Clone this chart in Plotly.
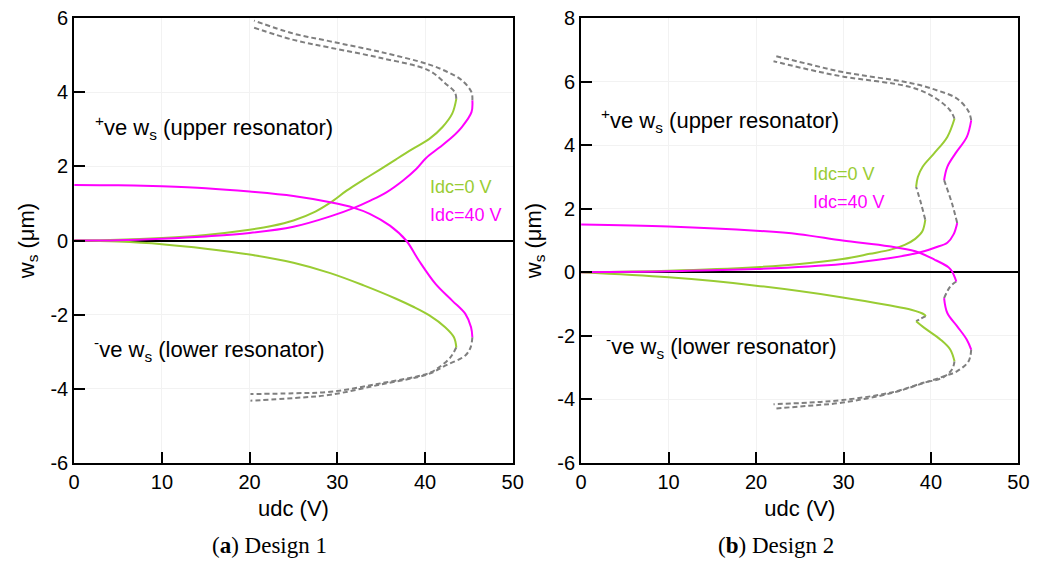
import plotly.graph_objects as go

# ---------------- Design 1 (left) ----------------
d1_g_up_x = [0, 5, 10, 15, 20, 22.5, 25, 27.5, 29.2, 31.1, 33.0, 34.9, 36.7, 38.6, 40.5, 42.0, 43.1, 43.57]
d1_g_up_y = [0, 0.02, 0.07, 0.15, 0.29, 0.39, 0.54, 0.78, 1.02, 1.35, 1.64, 1.92, 2.19, 2.47, 2.74, 3.06, 3.42, 3.82]
d1_m_up_x = [0, 5, 10, 15, 20, 25, 29.2, 31.9, 33.7, 35.6, 37.5, 39.0, 40.1, 41.6, 43.1, 44.2, 45.3, 45.4]
d1_m_up_y = [0, 0.01, 0.05, 0.11, 0.2, 0.37, 0.65, 0.88, 1.07, 1.30, 1.62, 1.93, 2.22, 2.50, 2.79, 3.06, 3.46, 3.78]
d1_m_dn_x = [0, 5, 10, 15, 20, 25, 29.2, 31.9, 33.7, 36.0, 37.85, 39.3, 41.2, 43.1, 44.6, 45.25, 45.4]
d1_m_dn_y = [1.5, 1.49, 1.46, 1.41, 1.32, 1.2, 1.03, 0.88, 0.72, 0.4, 0.0, -0.54, -1.17, -1.62, -1.98, -2.34, -2.61]
d1_g_dn_x = [0, 5, 10, 15, 20, 25, 29.2, 33.0, 36.7, 38.6, 40.5, 42.3, 43.3, 43.57]
d1_g_dn_y = [0, -0.03, -0.1, -0.22, -0.38, -0.6, -0.88, -1.21, -1.57, -1.78, -2.02, -2.34, -2.61, -2.88]
# unstable (dashed) branches
d1_g_uds_x = [43.57, 43.4, 42.35, 40.4, 35, 29.2, 25, 20.5]
d1_g_uds_y = [3.82, 4.0, 4.23, 4.59, 4.92, 5.20, 5.41, 5.74]
d1_m_uds_x = [45.4, 45.3, 44.2, 42.5, 40.4, 35, 29.2, 25, 20.5]
d1_m_uds_y = [3.78, 4.0, 4.32, 4.55, 4.75, 5.08, 5.37, 5.58, 5.93]
d1_g_lds_x = [43.57, 42.9, 41.6, 40.4, 35, 29.2, 25, 20.1]
d1_g_lds_y = [-2.88, -3.15, -3.42, -3.58, -3.85, -4.08, -4.12, -4.14]
d1_m_lds_x = [45.4, 45.2, 44.6, 42.35, 40.4, 35, 29.2, 25, 20.1]
d1_m_lds_y = [-2.61, -2.88, -3.1, -3.37, -3.6, -3.88, -4.16, -4.25, -4.32]

# ---------------- Design 2 (right) ----------------
d2_g_up1_x = [0, 10, 20, 25, 29.9, 33, 35.5, 37.0, 38.2, 39.0, 39.35]
d2_g_up1_y = [0, 0.05, 0.16, 0.26, 0.42, 0.58, 0.72, 0.86, 1.05, 1.28, 1.65]
d2_g_gapu_x = [39.35, 38.86, 38.3]
d2_g_gapu_y = [1.65, 2.17, 2.69]
d2_g_up2_x = [38.3, 38.5, 39.05, 40.36, 41.87, 42.69]
d2_g_up2_y = [2.69, 3.0, 3.32, 3.74, 4.26, 4.83]
d2_g_uds_x = [42.69, 42.2, 40.36, 37.74, 29.9, 26, 22]
d2_g_uds_y = [4.83, 5.09, 5.51, 5.82, 6.16, 6.38, 6.64]

d2_m_up1_x = [0, 10, 20, 29.9, 35.2, 37.5, 39.2, 40.5, 41.87, 42.6, 43.0]
d2_m_up1_y = [0, 0.03, 0.1, 0.26, 0.44, 0.55, 0.66, 0.78, 0.93, 1.2, 1.55]
d2_m_gapu_x = [43.0, 42.4, 41.5]
d2_m_gapu_y = [1.55, 2.17, 2.9]
d2_m_up2_x = [41.5, 41.87, 42.8, 44.1, 44.6]
d2_m_up2_y = [2.9, 3.32, 3.74, 4.26, 4.78]
d2_m_uds_x = [44.6, 44.3, 43.0, 40.74, 37.74, 29.9, 26, 22]
d2_m_uds_y = [4.78, 5.06, 5.46, 5.72, 5.95, 6.3, 6.55, 6.82]

d2_m_dn1_x = [0, 10, 20, 24.9, 29.9, 35.2, 38.2, 40.4, 42.0, 42.4, 42.9]
d2_m_dn1_y = [1.5, 1.44, 1.31, 1.2, 1.0, 0.82, 0.66, 0.4, 0.16, 0.03, -0.29]
d2_m_gapd_x = [42.9, 42.2, 41.5]
d2_m_gapd_y = [-0.29, -0.45, -0.81]
d2_m_dn2_x = [41.5, 41.87, 43.0, 44.1, 44.6]
d2_m_dn2_y = [-0.81, -1.28, -1.7, -2.12, -2.43]
d2_m_lds_x = [44.6, 44.3, 43.0, 41.5, 39.2, 35.5, 29.9, 26, 22]
d2_m_lds_y = [-2.43, -2.8, -3.11, -3.27, -3.48, -3.8, -4.1, -4.2, -4.29]

d2_g_dn1_x = [0, 10, 20, 29.9, 35.2, 37.74, 39.24, 39.4]
d2_g_dn1_y = [0, -0.16, -0.42, -0.79, -1.04, -1.18, -1.33, -1.38]
d2_g_gapd_x = [39.4, 38.9, 38.3]
d2_g_gapd_y = [-1.38, -1.45, -1.54]
d2_g_dn2_x = [38.3, 39.24, 41.1, 42.2, 42.69]
d2_g_dn2_y = [-1.54, -1.75, -2.12, -2.43, -2.8]
d2_g_lds_x = [42.69, 42.4, 41.3, 39.24, 35.5, 29.9, 26, 22]
d2_g_lds_y = [-2.8, -3.06, -3.32, -3.47, -3.78, -4.02, -4.1, -4.15]

# tick labels (hyphen minus as in the original)
x_ticks = [0, 10, 20, 30, 40, 50]
y1_ticks = [-6, -4, -2, 0, 2, 4, 6]
y2_ticks = [-6, -4, -2, 0, 2, 4, 6, 8]

GREEN = "#99cc33"
MAG = "#ff00ff"
GRAY = "#7f7f7f"

fig = go.Figure()

def add(x, y, color, dashed, ax):
    xa, ya = ("x", "y") if ax == 1 else ("x2", "y2")
    fig.add_trace(go.Scatter(
        x=x, y=y, mode="lines", xaxis=xa, yaxis=ya, showlegend=False, hoverinfo="skip",
        line=dict(color=color, width=2, dash="5px,3px" if dashed else "solid",
                  shape="spline", smoothing=1.0)))

# left dashed
for x, y in [(d1_g_uds_x, d1_g_uds_y), (d1_m_uds_x, d1_m_uds_y),
             (d1_g_lds_x, d1_g_lds_y), (d1_m_lds_x, d1_m_lds_y)]:
    add(x, y, GRAY, True, 1)
add(d1_g_up_x, d1_g_up_y, GREEN, False, 1)
add(d1_g_dn_x, d1_g_dn_y, GREEN, False, 1)
add(d1_m_up_x, d1_m_up_y, MAG, False, 1)
add(d1_m_dn_x, d1_m_dn_y, MAG, False, 1)

# right dashed
for x, y in [(d2_g_gapu_x, d2_g_gapu_y), (d2_g_uds_x, d2_g_uds_y),
             (d2_m_gapu_x, d2_m_gapu_y), (d2_m_uds_x, d2_m_uds_y),
             (d2_m_gapd_x, d2_m_gapd_y), (d2_m_lds_x, d2_m_lds_y),
             (d2_g_gapd_x, d2_g_gapd_y), (d2_g_lds_x, d2_g_lds_y)]:
    add(x, y, GRAY, True, 2)
for x, y in [(d2_g_up1_x, d2_g_up1_y), (d2_g_up2_x, d2_g_up2_y),
             (d2_g_dn1_x, d2_g_dn1_y), (d2_g_dn2_x, d2_g_dn2_y)]:
    add(x, y, GREEN, False, 2)
for x, y in [(d2_m_up1_x, d2_m_up1_y), (d2_m_up2_x, d2_m_up2_y),
             (d2_m_dn1_x, d2_m_dn1_y), (d2_m_dn2_x, d2_m_dn2_y)]:
    add(x, y, MAG, False, 2)

FONT = "Liberation Sans"
ax_common = dict(
    showline=True, linecolor="black", linewidth=2, mirror=True,
    ticks="inside", ticklen=11, tickwidth=1.5, tickcolor="black",
    showgrid=True, gridcolor="#f2f2f2", gridwidth=1,
    tickfont=dict(family=FONT, size=20, color="black"),
)
x_common = dict(ax_common, range=[0, 50], tickmode="array", tickvals=x_ticks,
                ticktext=[str(v) for v in x_ticks], zeroline=False,
                title=dict(text="udc (V)", font=dict(family=FONT, size=22, color="black"), standoff=9))
y_title = dict(text="w<sub>s</sub> (μm)", font=dict(family=FONT, size=22, color="black"), standoff=10)

fig.update_layout(
    width=1056, height=561,
    margin=dict(l=0, r=0, t=18, b=98),
    paper_bgcolor="white", plot_bgcolor="white",
    xaxis=dict(x_common, domain=[69.3 / 1056, 515 / 1056], anchor="y"),
    yaxis=dict(ax_common, range=[-6, 6], tickmode="array", tickvals=y1_ticks,
               ticktext=[str(v) for v in y1_ticks], anchor="x", domain=[0, 1],
               zeroline=True, zerolinecolor="black", zerolinewidth=1.5, title=y_title),
    xaxis2=dict(x_common, domain=[584.5 / 1056, 1029 / 1056], anchor="y2"),
    yaxis2=dict(ax_common, range=[-6, 8], tickmode="array", tickvals=y2_ticks,
                ticktext=[str(v) for v in y2_ticks], anchor="x2", domain=[0, 1],
                zeroline=True, zerolinecolor="black", zerolinewidth=1.5, title=y_title),
)

ann = []
def txt(text, x, y, xr, yr, size, color="black", xanchor="left", family=FONT):
    ann.append(dict(text=text, x=x, y=y, xref=xr, yref=yr, showarrow=False,
                    xanchor=xanchor, yanchor="middle",
                    font=dict(family=family, size=size, color=color)))

txt("<sup>+</sup>ve w<sub>s</sub> (upper resonator)", 2.2, 3.05, "x", "y", 22)
txt("<sup>-</sup>ve w<sub>s</sub> (lower resonator)", 2.0, -2.95, "x", "y", 22)
txt("Idc=0 V", 40.3, 1.43, "x", "y", 18, GREEN)
txt("Idc=40 V", 40.3, 0.68, "x", "y", 18, MAG)
txt("<sup>+</sup>ve w<sub>s</sub> (upper resonator)", 2.0, 4.78, "x2", "y2", 22)
txt("<sup>-</sup>ve w<sub>s</sub> (lower resonator)", 2.6, -2.35, "x2", "y2", 22)
txt("Idc=0 V", 26.3, 3.09, "x2", "y2", 18, GREEN)
txt("Idc=40 V", 26.3, 2.22, "x2", "y2", 18, MAG)

SERIF = "Liberation Serif"
txt("(<b>a</b>) Design 1", 268 / 1056, (463 - 545) / 445, "paper", "paper", 23, xanchor="center", family=SERIF)
txt("(<b>b</b>) Design 2", 783 / 1056, (463 - 545) / 445, "paper", "paper", 23, xanchor="center", family=SERIF)

fig.update_layout(annotations=ann)
fig.write_html("out.html")
